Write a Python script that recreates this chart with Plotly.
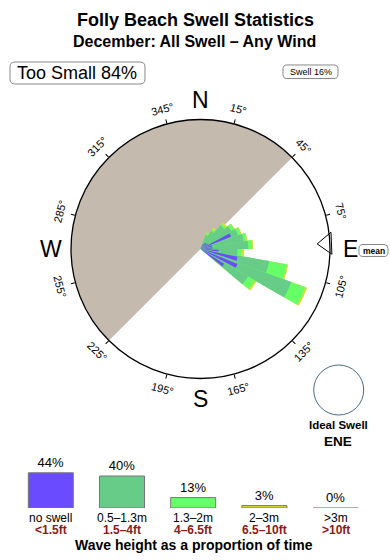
import numpy as np
import plotly.graph_objects as go

W, H = 390, 560

# ---------------- data ----------------
dir_bins = [25, 35, 45, 55, 65, 75, 85, 95, 105, 115, 125]          # swell direction (deg)
no_swell = [0.5, 0.7, 0.8, 0.9, 3.3, 1.2, 1.2, 1.8, 3.8, 4.0, 2.8]    # rose radial amounts
h_05_13 = [1.0, 1.4, 2.3, 2.7, 0.7, 3.2, 3.6, 1.9, 3.2, 5.7, 2.7]
h_13_2 = [0.2, 0.2, 0.2, 0.3, 0.3, 0.3, 0.4, 0.4, 1.8, 1.5, 0.8]
h_2_3 = [0.1, 0.2, 0.2, 0.1, 0.1, 0.1, 0.1, 0.3, 0.15, 0.2, 0.2]

size_classes = ["no swell", "0.5–1.3m", "1.3–2m", "2–3m", ">3m"]
size_ft = ["&lt;1.5ft", "1.5–4ft", "4–6.5ft", "6.5–10ft", "&gt;10ft"]
size_pct = [44, 40, 13, 3, 0]

tick_deg = [15, 45, 75, 105, 135, 165, 195, 225, 255, 285, 315, 345]
compass_pts = ["N", "E", "S", "W"]
compass_deg = [0, 90, 180, 270]
land_center, land_width = 315, 180
mean_dir = 87.5
too_small_pct = 84
swell_pct = 16
ideal_swell = "ENE"

colors = ["#6A4BFF", "#66CC88", "#66FF66", "#DADA38", "#D2A8A8"]
LAND = "#C5BAAE"
DARKRED = "#8B1A1A"
FONT = "Liberation Sans, Arial, sans-serif"

# ---------------- geometry helpers ----------------
CX, CY, RPX = 200.5, 249.0, 129.5
RMAX = 13.0


def px(x):
    return x / W


def py(y):
    return 1 - y / H


def rrect(x0, y0, x1, y1, r):
    pts = []
    def P(x, y):
        return f"{px(x):.5f},{py(y):.5f}"
    return (f"M {P(x0 + r, y0)} L {P(x1 - r, y0)} Q {P(x1, y0)} {P(x1, y0 + r)} "
            f"L {P(x1, y1 - r)} Q {P(x1, y1)} {P(x1 - r, y1)} L {P(x0 + r, y1)} "
            f"Q {P(x0, y1)} {P(x0, y1 - r)} L {P(x0, y0 + r)} Q {P(x0, y0)} {P(x0 + r, y0)} Z")


fig = go.Figure()

# land sector
fig.add_trace(go.Barpolar(r=[RMAX], theta=[land_center], width=[land_width],
                          marker=dict(color=LAND, line=dict(width=0)), showlegend=False,
                          hoverinfo="skip"))

# rose: overlay cumulative layers, outermost first
layers = [no_swell, h_05_13, h_13_2, h_2_3]
cum = np.cumsum(np.array(layers), axis=0)
widths = [6, 10, 10, 10]
for i in [3, 2, 1, 0]:
    fig.add_trace(go.Barpolar(r=cum[i], theta=dir_bins, width=[widths[i]] * len(dir_bins),
                              marker=dict(color=colors[i], line=dict(width=0)),
                              showlegend=False, name=size_classes[i]))

# mean direction marker
fig.add_trace(go.Scatterpolar(r=[12.68], theta=[mean_dir], mode="markers",
                              marker=dict(symbol="triangle-left", size=19, color="white",
                                          line=dict(color="black", width=1), angle=mean_dir - 90),
                              cliponaxis=False, showlegend=False))

# legend bar chart
fig.add_trace(go.Bar(x=list(range(len(size_pct))), y=size_pct, width=0.632,
                     marker=dict(color=colors, line=dict(color="#777777", width=1)),
                     text=[f"{v}%" for v in size_pct], textposition="outside",
                     textfont=dict(size=13, color="black", family=FONT),
                     cliponaxis=False, showlegend=False, xaxis="x", yaxis="y"))

ann = []
shapes = []

# titles
ann.append(dict(text="<b>Folly Beach Swell Statistics</b>", x=px(195), y=py(20.5),
                font=dict(size=18)))
ann.append(dict(text="<b>December: All Swell – Any Wind</b>", x=px(194), y=py(42),
                font=dict(size=16)))

# boxes
shapes.append(dict(type="path", path=rrect(10, 62, 145, 84, 5), xref="paper", yref="paper",
                   line=dict(color="#888888", width=1)))
ann.append(dict(text=f"Too Small {too_small_pct}%", x=px(77), y=py(73.5), font=dict(size=18)))
shapes.append(dict(type="path", path=rrect(283, 65, 338, 78.5, 4), xref="paper", yref="paper",
                   line=dict(color="#888888", width=1)))
ann.append(dict(text=f"Swell {swell_pct}%", x=px(310.5), y=py(72), font=dict(size=9)))
shapes.append(dict(type="path", path=rrect(359, 244.5, 388, 256.5, 4), xref="paper", yref="paper",
                   line=dict(color="#888888", width=1)))
ann.append(dict(text="<b>mean</b>", x=px(373.5), y=py(250.5), font=dict(size=8.5)))

# compass letters
for lab, d in zip(compass_pts, compass_deg):
    t = np.radians(d)
    ann.append(dict(text=lab, x=px(CX + 149.5 * np.sin(t)), y=py(CY - 149.5 * np.cos(t)),
                    font=dict(size=23)))

# degree tick labels
for d in tick_deg:
    t = np.radians(d)
    if d < 90:
        ang = d
    elif d < 270:
        ang = d - 180
    else:
        ang = d - 360
    ann.append(dict(text=f"{d}°", x=px(CX + 145 * np.sin(t)), y=py(CY - 145 * np.cos(t)),
                    textangle=ang, font=dict(size=11)))

# ideal swell
shapes.append(dict(type="circle", xref="paper", yref="paper",
                   x0=px(338.7 - 25), x1=px(338.7 + 25), y0=py(390 + 25), y1=py(390 - 25),
                   line=dict(color="#4A6A8A", width=1)))
ann.append(dict(text="<b>Ideal Swell</b>", x=px(338), y=py(425), font=dict(size=11.5)))
ann.append(dict(text=f"<b>{ideal_swell}</b>", x=px(338), y=py(441), font=dict(size=13.5)))

# legend labels
for i, (a, b) in enumerate(zip(size_classes, size_ft)):
    ann.append(dict(text=a, x=i, xref="x", y=py(518), font=dict(size=12)))
    ann.append(dict(text=f"<b>{b}</b>", x=i, xref="x", y=py(529.5),
                    font=dict(size=12, color=DARKRED)))
ann.append(dict(text="<b>Wave height as a proportion of time</b>", x=px(194), y=py(545),
                font=dict(size=14)))

# zero-height class marker line
shapes.append(dict(type="line", xref="x", yref="y", x0=4 - 0.316, x1=4 + 0.316, y0=0, y1=0,
                   line=dict(color=colors[4], width=1.5)))

for a in ann:
    a.setdefault("xref", "paper")
    a.setdefault("yref", "paper")
    a.setdefault("showarrow", False)
    a.setdefault("xanchor", "center")
    a.setdefault("yanchor", "middle")
    a["font"].setdefault("color", "black")
    a["font"].setdefault("family", FONT)

fig.update_layout(
    width=W, height=H, margin=dict(l=0, r=0, t=0, b=0),
    paper_bgcolor="white", plot_bgcolor="white",
    font=dict(family=FONT, color="black"),
    polar=dict(
        domain=dict(x=[px(CX - RPX), px(CX + RPX)], y=[py(CY + RPX), py(CY - RPX)]),
        bgcolor="rgba(0,0,0,0)",
        barmode="overlay",
        radialaxis=dict(visible=False, range=[0, RMAX]),
        angularaxis=dict(rotation=90, direction="clockwise", tickmode="array",
                         tickvals=tick_deg, ticks="outside", ticklen=4, tickcolor="black",
                         showticklabels=False, showgrid=False, showline=True,
                         linecolor="black", linewidth=1.3),
    ),
    xaxis=dict(domain=[0, 1], range=[-50.8 / 71.2, (W - 50.8) / 71.2], visible=False),
    yaxis=dict(domain=[py(508), py(460)], range=[0, 60], visible=False),
    annotations=ann, shapes=shapes, showlegend=False,
)

fig.write_html("out.html")
